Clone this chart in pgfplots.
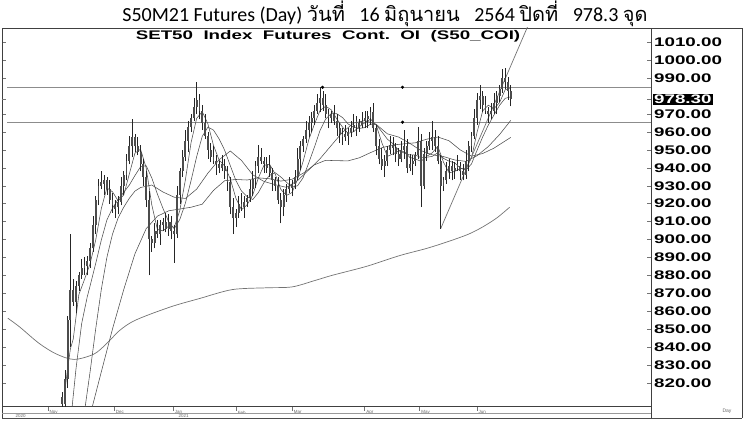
\documentclass[border=0pt]{standalone}
\usepackage{pgfplots}
\pgfplotsset{compat=1.18}
\usepackage{pgfplotstable}
\usepackage{fontspec}
\setmainfont{Carlito}
\newfontfamily\thaifont[Script=Thai]{Loma}
\newfontfamily\axfont[FakeStretch=1.5]{Liberation Sans}
\newfontfamily\smallfont{Liberation Sans}

% daily candles: d, low, high, body low, body high
\pgfplotstableread{
d lo hi bl bh
0 804 815 808 812
1 806 827 808 822
2 817 857 822 855
3 840 903 855 872
4 863 878 865 872
5 859 877 865 874
6 871 882 874 880
7 878 889 880 884
8 880 890 884 886
9 880 891 885 888
10 884 898 888 895
11 893 913 895 908
12 903 924 908 922
13 919 934 922 930
14 928 938 930 932
15 925 936 931 933
16 925 935 928 933
17 920 933 922 928
18 915 926 919 922
19 912 922 917 919.5
20 914 924 918 921
21 919 935 921 930
22 925 938 930 936
23 933 948 936 944
24 942 958 944 952
25 946 967 952 957
26 949 959 952 957
27 947 957 949 952
28 938 953 942 949
29 930 945 935 942
30 918 938 922 935
31 880 927 900 922
32 893 902 898 900
33 895 909 898 905
34 901 911 903 905
35 897 911 903 908
36 905 912 908 910
37 904 915 906 910
38 902 914 906 910
39 900 913 905 910
40 887 908 903 905
41 901 930 903 925
42 920 940 925 938
43 935 950 938 946
44 944 961 946 955
45 949 966 955 963
46 960 970 963 968
47 966 979 968 974
48 970 988 974 978
49 967 981 972 978
50 961 975 965 972
51 956 970 958 965
52 945 960 950 958
53 943 954 946 950
54 942 952 944 946
55 936 947 942 944
56 937 944 940 942
57 938 947 940 942
58 934 945 938 941
59 927 941 932 938
60 914 935 918 932
61 903 923 912 918
62 907 917 912 915
63 912 924 915 920
64 916 926 918 920
65 912 924 918 921
66 918 925 921 923
67 921 933 923 928
68 924 938 928 934
69 929 944 934 941
70 937 953 941 946
71 942 951 944 946
72 937 946 942 944
73 937 946 940 942
74 935 947 937 941
75 927 940 933 937
76 927 935 930 933
77 920 935 922 930
78 909 926 918 922
79 913 928 918 925
80 921 931 925 928
81 926 935 928 930
82 924 933 929 931
83 928 939 931 935
84 933 951 935 945
85 939 955 945 952
86 949 958 952 956
87 954 966 956 961
88 957 969 961 965
89 960 971 965 968
90 964 975 968 972
91 970 981 972 976
92 971 985 976 979
93 972 983 975 979
94 968 981 970 975
95 962 973 968 970
96 965 972 968 970
97 964 975 966 970
98 958 970 962 966
99 954 965 959 962
100 953 962 957 959
101 955 964 957 959
102 953 962 958 960
103 957 966 960 962
104 960 970 962 964
105 958 969 964 966
106 960 967 963 965
107 962 971 964 966
108 962 972 966 968
109 962 972 967 969
110 964 974 968 971
111 960 976 962 971
112 947 964 952 962
113 942 956 945 952
114 939 951 941 945
115 935 947 941 944
116 941 952 944 950
117 948 958 950 953
118 947 957 951 953
119 943 954 948 951
120 941 951 945 948
121 943 955 945 950
122 945 961 950 952
123 937 956 940 952
124 938 948 940 942
125 936 947 942 944
126 941 949 944 947
127 945 963 947 955
128 918 959 930 955
129 928 951 930 948
130 944 955 948 952
131 950 960 952 955
132 950 966 955 957
133 949 961 952 957
134 942 958 944 952
135 906 947 930 944
136 927 935 930 933
137 931 943 933 938
138 934 945 938 941
139 933 944 938 941
140 934 943 938 940
141 938 947 940 942
142 933 943 938 941
143 933 942 936 938
144 934 950 936 944
145 938 955 944 952
146 949 960 952 958
147 956 973 958 968
148 964 982 968 978
149 973 986 978 980
150 971 983 975 980
151 970 980 972 975
152 965 974 970 972
153 967 976 970 972
154 970 982 972 976
155 970 983 976 980
156 977 986 980 984
157 982 995 984 990
158 984 996 988 990
159 978 991 983 988
160 974.3 986 978.3 983
}\candles

\pgfplotstableread{
d v
1 815
2 828
3 839
4 844.4
6 869.2
8 877.6
10 886.4
12 899.6
14 917.2
16 928.8
18 926.6
20 921.6
22 924.8
24 936.6
26 948.2
28 950.4
30 940
32 919.4
34 905.6
36 904.8
38 907.4
40 906.8
42 916.2
44 933.4
46 954
48 967.6
50 971.4
52 964.6
54 952.6
56 944.4
58 941
60 933.8
62 923
64 916.6
66 919.4
68 924.8
70 934.4
72 941.4
74 942
76 936.6
78 928
80 924.6
82 926.2
84 933.6
86 943.8
88 955.8
90 964.4
92 972
94 974.4
96 972.4
98 967.2
100 962.8
102 959.2
104 960.2
106 963
108 965.2
110 967.2
112 964
114 954.2
116 946.4
118 947.8
120 949.4
122 949.2
124 945.8
126 945
128 943.6
130 946.4
132 948.4
134 952
136 943.2
138 937.2
140 938
142 939.6
144 939.8
146 945.6
148 960
150 971.8
152 975
154 973
156 976.4
158 983.6
160 984.7
}\mafive

\pgfplotstableread{
d v
3.5 805
5 828
7 853
9 868
10 874
12 886.5
14 899.6
16 910.9
18 917.5
20 922.3
22 926.3
24 930.4
26 935.7
28 940.6
30 941.2
32 934.4
34 925.4
36 917.3
38 910
40 906
42 911.2
44 920.3
46 932.8
48 946.2
50 957.6
52 962.7
54 961.1
56 956.2
58 949.8
60 941.2
62 932.9
64 927
66 923.9
68 922.3
70 926.2
72 931.8
74 935.8
76 937.3
78 934.9
80 932
82 929.3
84 930
86 934.6
88 942.9
90 951.6
92 960.9
94 967.3
96 970.3
98 970.2
100 968.1
102 964.5
104 962.6
106 962
108 962.5
110 964.4
112 964.1
114 960.2
116 956
118 953.5
120 949.9
122 948.2
124 947.2
126 947.2
128 945.6
130 945.9
132 946.4
134 948.5
136 945.3
138 943.7
140 942.8
142 939.9
144 938.7
146 942.2
148 949.9
150 957.3
152 963.9
154 969.5
156 974.9
158 978.8
160 979.7
}\maten

\pgfplotstableread{
d v
8.2 806
10 826
12 850
14 872
16 890
18 903
20 912
22 918
24 923
26 927
28 929
32 930.4
36 926.5
40 923.6
44 922.9
48 928.1
52 937
56 944.5
60 949.4
64 944.1
68 936.1
72 932.4
76 930.6
80 929.1
84 932.9
88 938.9
92 945.1
96 952.5
100 959.9
104 965
108 966.4
112 964.3
116 959
120 957.2
124 953.7
128 949.6
132 947.3
136 946.3
140 944.4
144 943.6
148 946.8
152 951.9
156 958.6
160 966.5
}\matwenty

\pgfplotstableread{
d v
10.7 806
14 826
18 850
22 872
26 892
30 906
34 913
38 916
42 917
46 918
50 919.7
54 927.4
58 932.8
62 933.5
66 933.2
70 934.4
74 933.9
78 932.6
82 933.6
86 937
90 941.7
94 944.2
98 944
102 943.9
106 945.6
110 948.5
114 951.2
118 952.8
122 953.4
126 954
130 956
134 957.2
138 955.1
142 950
146 946.5
150 948
154 951
158 955
160 957
}\mafifty

\pgfplotstableread{
d v
-19.3 856
-15 851
-8.2 842
-2 836
4.3 833
11.4 836
16 842
20.4 849
25 854
31 858
40 863
49 867
60.7 872
72.9 873
82 873.5
90 877
96.4 880
108.6 885
120.4 891
130 895
138 899
145 903
150 907
155 912
159.6 918
}\malong

\begin{document}
\begin{tikzpicture}
\useasboundingbox (0,0) rectangle (750pt,422pt);
\begin{axis}[
  at={(2pt,15.3pt)}, anchor=south west,
  scale only axis, width=649pt, height=378.7pt,
  xmin=-21.4, xmax=210, ymin=806.6, ymax=1018.1,
  axis line style={black!75, line width=0.8pt},
  ytick={820,830,...,970,990,1000,1010},
  minor y tick num=4,
  yticklabel pos=right,
  ytick align=inside,
  major tick length=4pt, minor tick length=2pt,
  tick style={black!55, line width=0.4pt},
  yticklabel style={font=\axfont\bfseries\fontsize{12.5}{12.5}\selectfont,
    anchor=west, inner sep=1pt, xshift=2pt},
  /pgf/number format/.cd, fixed, fixed zerofill, precision=2,
    1000 sep={}, assume math mode=true,
  /pgfplots/.cd,
  extra y ticks={978.3},
  extra y tick style={yticklabel style={fill=black, text=white}},
  xtick={-5,18.6,39.6,62.1,82.1,107.9,127.5,147.9},
  xticklabels={Nov,Dec,Jan,Feb,Mar,Apr,May,Jun},
  xtick pos=bottom, xtick align=outside,
  xticklabel style={font=\smallfont\fontsize{4.5}{4.5}\selectfont, text=black!60,
    anchor=north west, inner sep=0.5pt, xshift=1pt, yshift=0.5pt},
]
% support / resistance lines
\addplot[black!45, line width=1pt] coordinates {(-19.6,985) (210,985)};
\addplot[black!45, line width=1pt] coordinates {(-19.6,965.5) (210,965.5)};
\addplot[only marks, mark=*, mark size=1.4pt, black] coordinates {(92.9,985) (121.4,985) (121.4,965.5)};
% long moving average
\addplot[black!55, line width=0.7pt, smooth] table[x=d, y=v] {\malong};
% moving averages
\addplot[black!70, line width=0.55pt] table[x=d, y=v] {\mafifty};
\addplot[black!70, line width=0.55pt] table[x=d, y=v] {\matwenty};
\addplot[black!70, line width=0.55pt] table[x=d, y=v] {\maten};
\addplot[black!70, line width=0.55pt] table[x=d, y=v] {\mafive};
% trend line
\addplot[black!55, line width=0.7pt] coordinates {(135,906) (170,1033.4)};
% candles: wicks and bodies
\addplot[draw=none, mark=none, error bars/.cd, y dir=plus, y explicit, error mark=none,
  error bar style={draw=black!85, line width=0.6pt}]
  table[x=d, y=lo, y error plus expr=\thisrow{hi}-\thisrow{lo}] {\candles};
\addplot[draw=none, mark=none, error bars/.cd, y dir=plus, y explicit, error mark=none,
  error bar style={draw=black!70, line width=1.9pt}]
  table[x=d, y=bl, y error plus expr=\thisrow{bh}-\thisrow{bl}] {\candles};
\end{axis}
% frame of the price panel and the date strip
\draw[black!75, line width=0.8pt] (651pt,15.3pt) -- (651pt,3.5pt);
\draw[black!75, line width=0.8pt] (2pt,15.3pt) -- (2pt,3.5pt);
\draw[black!40, line width=0.5pt] (2pt,8.7pt) -- (651pt,8.7pt);
\draw[black!75, line width=0.8pt] (651pt,394pt) -- (742pt,394pt) -- (742pt,3.5pt);
\draw[black!70, line width=1.6pt] (2pt,3.5pt) -- (742pt,3.5pt);
\node[font=\smallfont\fontsize{4.5}{4.5}\selectfont, text=black!60, anchor=west] at (12pt,5.8pt) {2020};
\node[font=\smallfont\fontsize{4.5}{4.5}\selectfont, text=black!60, anchor=west] at (175pt,5.8pt) {2021};
\node[font=\smallfont\fontsize{5}{5}\selectfont, text=black!60] at (727pt,11pt) {Day};
% titles
\node[font=\axfont\bfseries\fontsize{12.5}{12.5}\selectfont, inner sep=0pt] at (328pt,385.5pt)
  {SET50\ \ Index\ \ Futures\ \ Cont.\ \ OI\ \ (S50\_COI)};
\node[font=\fontsize{20}{20}\selectfont, inner sep=0pt] at (385pt,408pt)
  {S50M21 Futures (Day) {\thaifont วันที่}\enskip\ 16 {\thaifont มิถุนายน}\enskip\ 2564 {\thaifont ปิดที่}\enskip\ 978.3 {\thaifont จุด}};
\end{tikzpicture}
\end{document}
